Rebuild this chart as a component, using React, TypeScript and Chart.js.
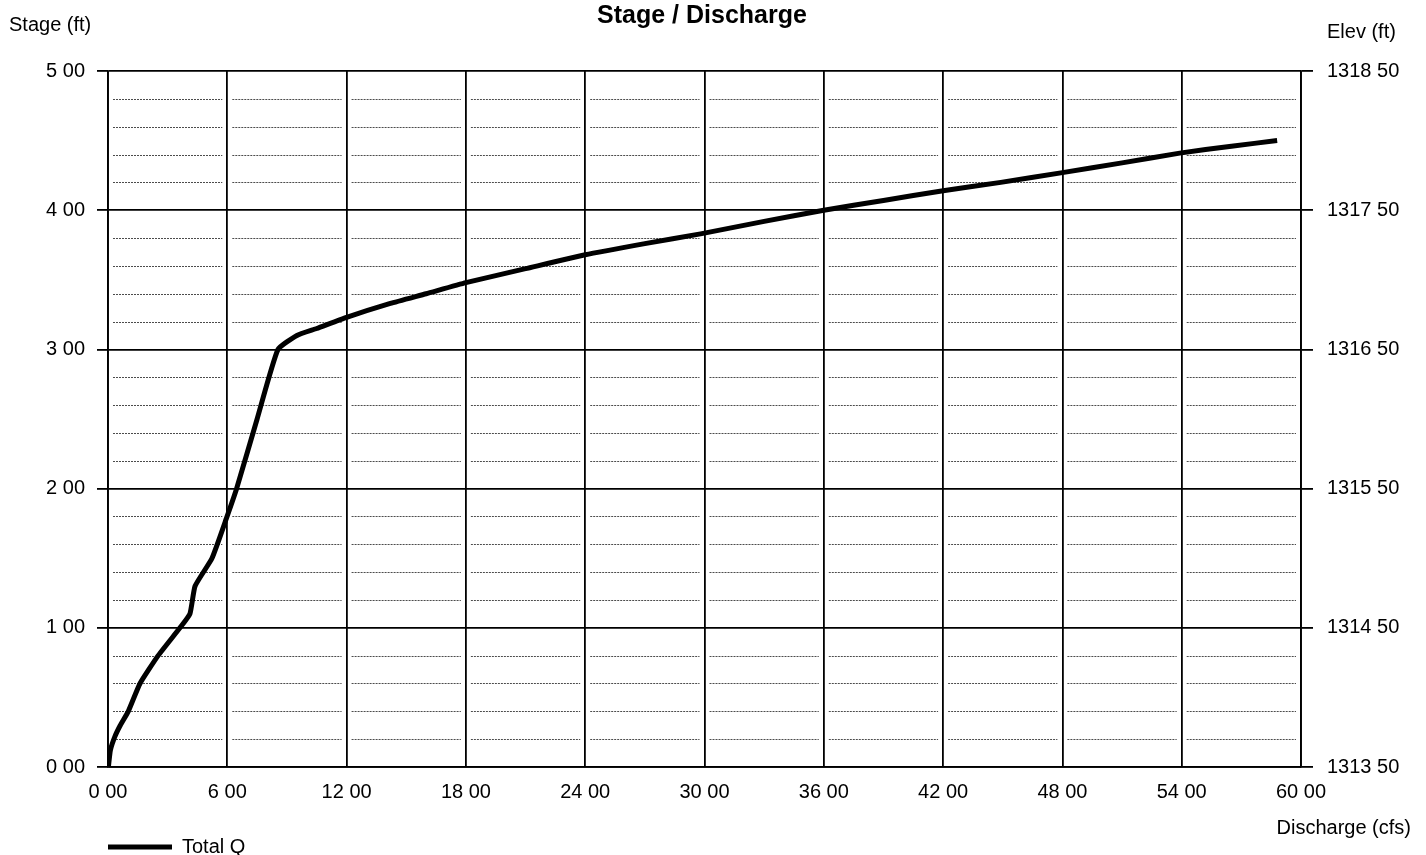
import React, { useEffect, useRef } from "react";
import { Chart, registerables } from "chart.js";

Chart.register(...registerables);

// Rating curve: discharge (cfs) against stage (ft)
const discharge = [
  0.02, 0.12, 0.35, 0.62, 1.02, 1.61, 2.52, 3.62, 4.12, 4.38, 5.23, 5.99, 6.47,
  7.5, 8.55, 9.5, 10.5, 12.0, 14.2, 16.0, 18.0, 21.0, 24.0, 27.0, 29.8, 33.0,
  36.0, 39.0, 42.0, 44.9, 48.0, 51.0, 53.9, 56.5, 58.8,
];
const stage = [
  0.0, 0.12, 0.22, 0.3, 0.4, 0.6, 0.8, 1.0, 1.1, 1.3, 1.5, 1.8, 2.0, 2.5, 3.0,
  3.1, 3.15, 3.23, 3.33, 3.4, 3.48, 3.58, 3.68, 3.76, 3.83, 3.92, 4.0, 4.07,
  4.14, 4.2, 4.27, 4.34, 4.41, 4.46, 4.5,
];

const stageTicks = ["0 00", "1 00", "2 00", "3 00", "4 00", "5 00"];
const elevTicks = ["1313 50", "1314 50", "1315 50", "1316 50", "1317 50", "1318 50"];
const dischargeTicks = [
  "0 00", "6 00", "12 00", "18 00", "24 00", "30 00",
  "36 00", "42 00", "48 00", "54 00", "60 00",
];

const FONT = "'Liberation Sans', Arial, sans-serif";

// Dashed minor grid (every 0.2 ft) plus titles and the legend
const decorPlugin = {
  id: "decor",
  beforeDatasetsDraw(chart: any) {
    const { ctx } = chart;
    const xs = chart.scales.x;
    const ys = chart.scales.y;
    ctx.save();
    ctx.strokeStyle = "rgba(0,0,0,0.7)";
    ctx.lineWidth = 1;
    ctx.setLineDash([2, 1]);
    for (let i = 1; i < 25; i++) {
      if (i % 5 === 0) continue;
      const py = Math.round(ys.getPixelForValue(i * 0.2)) + 0.5;
      for (let c = 0; c < 10; c++) {
        const x0 = xs.getPixelForValue(c * 6) + 5;
        const x1 = xs.getPixelForValue((c + 1) * 6) - 5;
        ctx.beginPath();
        ctx.moveTo(x0, py);
        ctx.lineTo(x1, py);
        ctx.stroke();
      }
    }
    ctx.restore();
  },
  afterDraw(chart: any) {
    const { ctx } = chart;
    ctx.save();
    ctx.fillStyle = "#000";
    ctx.textBaseline = "middle";

    ctx.font = `bold 25px ${FONT}`;
    ctx.textAlign = "center";
    ctx.fillText("Stage / Discharge", 702, 16);

    ctx.font = `20px ${FONT}`;
    ctx.textAlign = "left";
    ctx.fillText("Stage (ft)", 9, 25);
    ctx.fillText("Elev (ft)", 1327, 32);
    ctx.textAlign = "right";
    ctx.fillText("Discharge (cfs)", 1411, 828);

    // legend
    ctx.strokeStyle = "#000";
    ctx.lineWidth = 5;
    ctx.beginPath();
    ctx.moveTo(108, 847);
    ctx.lineTo(172, 847);
    ctx.stroke();
    ctx.textAlign = "left";
    ctx.fillText("Total Q", 182, 847);
    ctx.restore();
  },
};

export default function App() {
  const ref = useRef<HTMLCanvasElement | null>(null);

  useEffect(() => {
    document.body.style.margin = "0";
    const canvas = ref.current;
    if (!canvas) return;

    const chart = new Chart(canvas, {
      type: "line",
      data: {
        datasets: [
          {
            label: "Total Q",
            data: discharge.map((q, i) => ({ x: q, y: stage[i] })),
            borderColor: "#000",
            backgroundColor: "#000",
            borderWidth: 5,
            pointRadius: 0,
            tension: 0.15,
            yAxisID: "y",
          },
        ],
      },
      options: {
        responsive: false,
        devicePixelRatio: 1,
        animation: false,
        layout: { padding: { top: 71, left: 0, right: 0, bottom: 0 } },
        plugins: {
          legend: { display: false },
          title: { display: false },
          tooltip: { enabled: false },
        },
        scales: {
          x: {
            type: "linear",
            min: 0,
            max: 60,
            afterFit: (s: any) => {
              s.height = 88;
            },
            afterBuildTicks: (s: any) => {
              s.ticks = dischargeTicks.map((_, i) => ({ value: i * 6 }));
            },
            ticks: {
              padding: 13,
              color: "#000",
              font: { family: FONT, size: 20 },
              maxRotation: 0,
              autoSkip: false,
              callback: (_v: any, i: number) => dischargeTicks[i],
            },
            grid: { color: "#000", lineWidth: 1.8, drawTicks: false },
            border: { color: "#000", width: 1.8 },
          },
          y: {
            type: "linear",
            position: "left",
            min: 0,
            max: 5,
            afterFit: (s: any) => {
              s.width = 108;
            },
            afterBuildTicks: (s: any) => {
              s.ticks = stageTicks.map((_, i) => ({ value: i }));
            },
            ticks: {
              padding: 12,
              color: "#000",
              font: { family: FONT, size: 20 },
              callback: (_v: any, i: number) => stageTicks[i],
            },
            grid: { color: "#000", lineWidth: 1.8, tickLength: 11 },
            border: { color: "#000", width: 1.8 },
          },
          y2: {
            type: "linear",
            position: "right",
            min: 1313.5,
            max: 1318.5,
            afterFit: (s: any) => {
              s.width = 125;
            },
            afterBuildTicks: (s: any) => {
              s.ticks = elevTicks.map((_, i) => ({ value: 1313.5 + i }));
            },
            ticks: {
              padding: 14,
              color: "#000",
              font: { family: FONT, size: 20 },
              callback: (_v: any, i: number) => elevTicks[i],
            },
            grid: {
              color: "#000",
              lineWidth: 1.8,
              tickLength: 12,
              drawOnChartArea: false,
            },
            border: { color: "#000", width: 1.8 },
          },
        },
      },
      plugins: [decorPlugin],
    });

    return () => chart.destroy();
  }, []);

  return (
    <canvas
      ref={ref}
      width={1426}
      height={855}
      style={{ display: "block", width: 1426, height: 855 }}
    />
  );
}
